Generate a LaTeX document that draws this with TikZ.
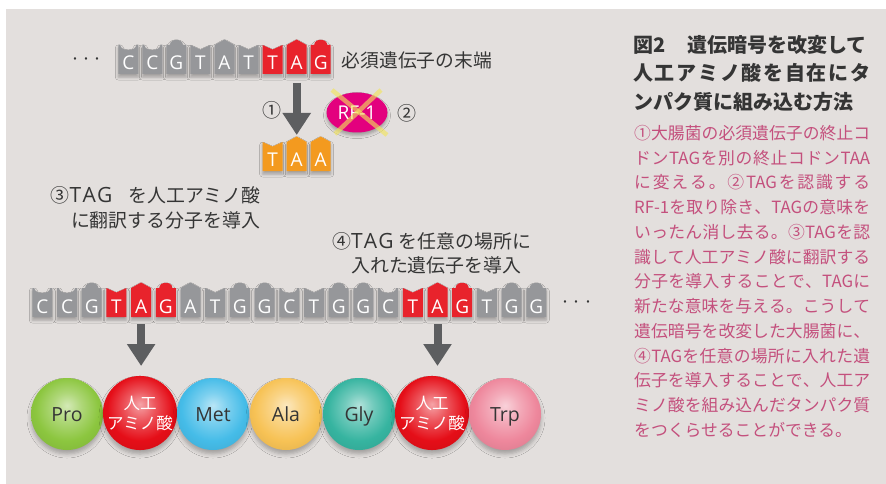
\documentclass[tikz,border=0pt]{standalone}
\usepackage{fontspec}
\setmainfont{Noto Sans CJK JP}
\newfontfamily\lat{Open Sans}
\usetikzlibrary{shapes.geometric,arrows.meta,shadows.blur}

\definecolor{bgc}{HTML}{E3DFDD}
\definecolor{nucgray}{HTML}{96979A}
\definecolor{nucred}{HTML}{E8232C}
\definecolor{nucorange}{HTML}{F39A1F}
\definecolor{arrowc}{HTML}{5D5E60}
\definecolor{txtdark}{HTML}{353535}
\definecolor{rfmag}{HTML}{E3007E}
\definecolor{crossc}{HTML}{F2E45A}
\definecolor{bodyc}{HTML}{C4507D}
\definecolor{ballgreen}{HTML}{8CC63F}
\definecolor{ballred}{HTML}{E50E18}
\definecolor{ballblue}{HTML}{45BCE8}
\definecolor{ballyellow}{HTML}{F7C255}
\definecolor{ballteal}{HTML}{36B4A0}
\definecolor{ballpink}{HTML}{EE879C}

\colorlet{mybc}{red}
\pgfdeclareradialshading[mybc]{myball}{\pgfpoint{0bp}{6bp}}{%
  color(0bp)=(mybc!38!white); color(10bp)=(mybc!70!white);
  color(22bp)=(mybc); color(32bp)=(mybc!92!black); color(50bp)=(mybc!92!black)}

% nucleotide shapes: #1 x-left, #2 shoulder y, #3 colour
\newcommand\nucC[3]{\fill[#3,nucshadow] (#1,#2+29) -- (#1,#2) -- (#1+2,#2)
  .. controls (#1+2,#2+6.5) and (#1+18,#2+6.5) .. (#1+18,#2) -- (#1+20,#2) -- (#1+20,#2+29) -- cycle;}
\newcommand\nucG[3]{\fill[#3,nucshadow] (#1,#2+29) -- (#1,#2) -- (#1+3.5,#2)
  .. controls (#1+3.5,#2-7) and (#1+16.5,#2-7) .. (#1+16.5,#2) -- (#1+20,#2) -- (#1+20,#2+29) -- cycle;}
\newcommand\nucT[3]{\fill[#3,nucshadow] (#1,#2+29) -- (#1,#2) -- (#1+10,#2+4.5) -- (#1+20,#2) -- (#1+20,#2+29) -- cycle;}
\newcommand\nucA[3]{\fill[#3,nucshadow] (#1,#2+29) -- (#1,#2) -- (#1+10,#2-5.5) -- (#1+20,#2) -- (#1+20,#2+29) -- cycle;}

% justified line
\newcommand\spr[2]{\makebox[#1][s]{\sprA#2\relax}}
\def\sprA#1{#1\sprB}
\def\sprB#1{\ifx\relax#1\else\hfil#1\expandafter\sprB\fi}
\newcommand\wtag{{\lat\fontsize{21pt}{22pt}\selectfont T\kern1.2pt A\kern1.2pt G}}

\begin{document}
\begin{tikzpicture}[x=1pt,y=-1pt,
  nucshadow/.style={blur shadow={shadow xshift=0pt,shadow yshift=-3pt,shadow blur radius=3pt,shadow opacity=30}},
  nuclbl/.style={anchor=base,text=white,inner sep=0pt,font=\lat\fontsize{19pt}{22pt}\selectfont},
  diagtxt/.style={text=txtdark,inner sep=0pt,font=\fontsize{18.9pt}{22pt}\selectfont},
  dots/.style={text=txtdark,inner sep=0pt,font=\fontsize{18pt}{20pt}\selectfont},
  circnum/.style={text=txtdark,inner sep=0pt,font=\fontsize{19pt}{22pt}\selectfont},
  bigarrow/.style={draw=arrowc,line width=8pt,-{Triangle[width=27pt,length=22pt]}},
  ball/.style={circle,minimum size=72pt,inner sep=0pt,/utils/exec={\colorlet{mybc}{#1}},shade,shading=myball,
    blur shadow={shadow xshift=0pt,shadow yshift=-4pt,shadow blur radius=4pt,shadow opacity=28}},
  balltxt/.style={text=txtdark,font=\lat\fontsize{19.5pt}{24pt}\selectfont,text height=14pt,text depth=0pt},
  balljp/.style={text=white,align=center,font=\fontsize{16.5pt}{20pt}\selectfont},
  titletxt/.style={text=txtdark,inner sep=0pt,anchor=base west,font=\fontsize{20pt}{24pt}\selectfont\bfseries},
  bodytxt/.style={text=bodyc,inner sep=0pt,anchor=base west,font=\fontsize{16.8pt}{20pt}\selectfont}]

\useasboundingbox (0,0) rectangle (886,484);
\fill[white] (0,0) rectangle (886,484);
\fill[bgc] (6,9) rectangle (886,484);

% ---- top sequence
\node[dots] (dtop) at (86.5,61.7) {\makebox[33pt][s]{·\hfil·\hfil·}};
\foreach \b/\c [count=\i from 0] in {C/nucgray,C/nucgray,G/nucgray,T/nucgray,A/nucgray,T/nucgray,T/nucred,A/nucred,G/nucred}{
  \pgfmathsetmacro\xx{118.3+\i*24.05}
  \csname nuc\b\endcsname{\xx}{45}{\c}
  \node[nuclbl] (s\i) at (\xx+10,69.5) {\b};
}
\node[diagtxt,anchor=base west,font=\fontsize{18.75pt}{22pt}\selectfont] (endlbl) at (341.7,67.6) {必須遺伝子の末端};

% ---- step 1 arrow and TAA
\coordinate (a1s) at (296.7,83);
\coordinate (a1e) at (296.7,135);
\draw[bigarrow] (a1s) -- (a1e);
\node[circnum] (n1) at (272,110.5) {①};
\foreach \b [count=\i from 0] in {T,A,A}{
  \pgfmathsetmacro\xx{262.6+\i*24.05}
  \csname nuc\b\endcsname{\xx}{142}{nucorange}
  \node[nuclbl] (o\i) at (\xx+10,166.5) {\b};
}

% ---- RF-1 removed
\node[ellipse,fill=rfmag,minimum width=61pt,minimum height=40pt,inner sep=0pt,text=white,
  font=\lat\fontsize{19pt}{20pt}\selectfont,
  blur shadow={shadow xshift=0pt,shadow yshift=-3pt,shadow blur radius=3pt,shadow opacity=30}] (rf) at (357,112.5) {RF-1};
\coordinate (x1) at (332,90);
\coordinate (x2) at (387,135);
\coordinate (x3) at (381,90);
\coordinate (x4) at (335,134);
\draw[crossc,line width=4.5pt,opacity=.62] (x1) -- (x2);
\draw[crossc,line width=4.5pt,opacity=.62] (x3) -- (x4);
\node[circnum] (n2) at (407,113) {②};

% ---- explanatory labels
\node[diagtxt,anchor=base west] (l3a) at (50.6,202.2) {\makebox[209.6pt][s]{③\wtag\hfil を人工アミノ酸}};
\node[diagtxt,anchor=base east] (l3b) at (260.2,227.2) {に翻訳する分子を導入};
\node[diagtxt,anchor=base west] (l4a) at (331.9,248.9) {\makebox[199pt][s]{④\wtag\hfil を任意の場所に}};
\node[diagtxt,anchor=base west] (l4b) at (351,272.2) {入れた遺伝子を導入};

% ---- middle sequence
\foreach \b/\c [count=\i from 0] in {C/nucgray,C/nucgray,G/nucgray,T/nucred,A/nucred,G/nucred,A/nucgray,T/nucgray,G/nucgray,G/nucgray,C/nucgray,T/nucgray,G/nucgray,G/nucgray,C/nucgray,T/nucred,A/nucred,G/nucred,T/nucgray,G/nucgray,G/nucgray}{
  \pgfmathsetmacro\xx{32.3+\i*24.7}
  \csname nuc\b\endcsname{\xx}{288}{\c}
  \node[nuclbl] (m\i) at (\xx+10,313) {\b};
}
\node[dots] (dmid) at (577,305) {\makebox[33pt][s]{·\hfil·\hfil·}};

% ---- arrows to proteins
\coordinate (a2s) at (141.1,324);
\coordinate (a2e) at (141.1,366);
\coordinate (a3s) at (437.5,324);
\coordinate (a3e) at (437.5,366);
\draw[bigarrow] (a2s) -- (a2e);
\draw[bigarrow] (a3s) -- (a3e);

% ---- amino acid balls
\node[ball=ballgreen,balltxt] (b1) at (67,414) {Pro};
\node[ball=ballred,balljp] (b2) at (140,413) {人工\\アミノ酸};
\node[ball=ballblue,balltxt] (b3) at (213,414) {Met};
\node[ball=ballyellow,balltxt] (b4) at (286,414) {Ala};
\node[ball=ballteal,balltxt] (b5) at (359,414) {Gly};
\node[ball=ballred,balljp] (b6) at (432,413) {人工\\アミノ酸};
\node[ball=ballpink,balltxt] (b7) at (505,414) {Trp};

% ---- right panel
\node[titletxt] (t1) at (633,52.6) {図2\hspace{1.1em}遺伝暗号を改変して};
\node[titletxt] (t2) at (633,80.6) {\spr{237pt}{人工アミノ酸を自在にタ}};
\node[titletxt] (t3) at (633,109.6) {ンパク質に組み込む方法};

\node[bodytxt] (r1) at (634,139.4) {\spr{236pt}{①大腸菌の必須遺伝子の終止コ}};
\node[bodytxt] (r2) at (634,164.15) {\spr{236pt}{ドン{{TAG}}を別の終止コドン{{TAA}}}};
\node[bodytxt] (r3) at (634,188.9) {\spr{236pt}{に変える。②{{TAG}}を認識する}};
\node[bodytxt] (r4) at (634,213.65) {\spr{236pt}{{{RF-1}}を取り除き、{{TAG}}の意味を}};
\node[bodytxt] (r5) at (634,238.4) {\spr{236pt}{いったん消し去る。③{{TAG}}を認}};
\node[bodytxt] (r6) at (634,263.15) {\spr{236pt}{識して人工アミノ酸に翻訳する}};
\node[bodytxt] (r7) at (634,287.9) {\spr{236pt}{分子を導入することで、{{TAG}}に}};
\node[bodytxt] (r8) at (634,312.65) {\spr{236pt}{新たな意味を与える。こうして}};
\node[bodytxt] (r9) at (634,337.4) {\spr{236pt}{遺伝暗号を改変した大腸菌に、}};
\node[bodytxt] (r10) at (634,362.15) {\spr{236pt}{④{{TAG}}を任意の場所に入れた遺}};
\node[bodytxt] (r11) at (634,386.9) {\spr{236pt}{伝子を導入することで、人工ア}};
\node[bodytxt] (r12) at (634,411.65) {\spr{236pt}{ミノ酸を組み込んだタンパク質}};
\node[bodytxt] (r13) at (634,436.4) {をつくらせることができる。};
\end{tikzpicture}
\end{document}
